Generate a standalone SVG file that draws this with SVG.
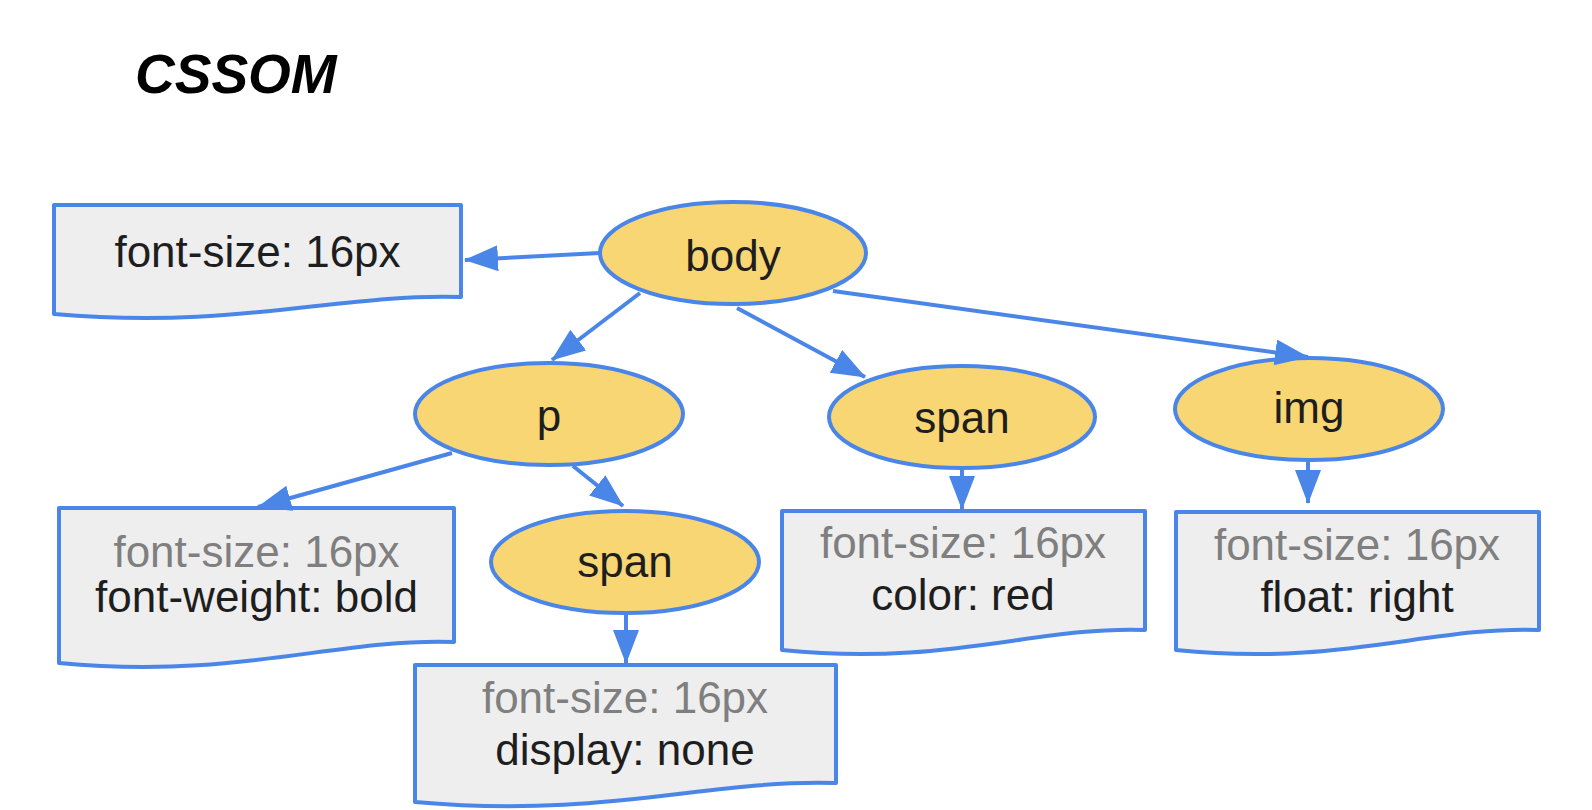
<svg xmlns="http://www.w3.org/2000/svg" width="1592" height="810" viewBox="0 0 1592 810">
<style>
.ell{fill:#f8d674;stroke:#4a86e8;stroke-width:4}
.doc{fill:#eeeeee;stroke:#4a86e8;stroke-width:4;stroke-linejoin:round}
.lbl{font-family:"Liberation Sans",Arial,sans-serif;font-size:44px;fill:#1e1e1e;text-anchor:middle}
.inh{fill:#7f7f7f}
.title{font-family:"Liberation Sans",Arial,sans-serif;font-size:55px;font-weight:bold;font-style:italic;fill:#000000}
.con{stroke:#4a86e8;stroke-width:4;fill:none;marker-end:url(#arr)}
</style>
<defs>
<marker id="arr" markerUnits="userSpaceOnUse" markerWidth="34" markerHeight="28" refX="33" refY="13" orient="auto">
<path d="M0,0 L34,13 L0,26 z" fill="#4a86e8"/>
</marker>
</defs>
<rect width="1592" height="810" fill="#ffffff"/>
<text class="title" x="135" y="93">CSSOM</text>

<g id="box-body">
<path class="doc" d="M54,205 H461 V297 C339,293 237,330 54,314 Z"/>
<text class="lbl" x="257.5" y="267">font-size: 16px</text>
</g>
<g id="node-body">
<ellipse class="ell" cx="733" cy="253" rx="133" ry="51"/>
<text class="lbl" x="733" y="271">body</text>
</g>
<g id="node-p">
<ellipse class="ell" cx="549" cy="414" rx="134" ry="51"/>
<text class="lbl" x="549" y="431">p</text>
</g>
<g id="node-span1">
<ellipse class="ell" cx="962" cy="417" rx="133" ry="51"/>
<text class="lbl" x="962" y="433">span</text>
</g>
<g id="node-img">
<ellipse class="ell" cx="1309" cy="409" rx="134" ry="51"/>
<text class="lbl" x="1309" y="423">img</text>
</g>
<g id="node-span2">
<ellipse class="ell" cx="625" cy="562" rx="134" ry="51"/>
<text class="lbl" x="625" y="577">span</text>
</g>
<g id="box-p">
<path class="doc" d="M59,508 H454 V642 C335,638 237,680 59,663 Z"/>
<text class="lbl inh" x="256.5" y="567">font-size: 16px</text>
<text class="lbl" x="256.5" y="612">font-weight: bold</text>
</g>
<g id="box-span1">
<path class="doc" d="M782,511 H1145 V630 C1036,626 945,667 782,650 Z"/>
<text class="lbl inh" x="963" y="558">font-size: 16px</text>
<text class="lbl" x="963" y="610">color: red</text>
</g>
<g id="box-img">
<path class="doc" d="M1176,512 H1539 V630 C1430,626 1339,667 1176,650 Z"/>
<text class="lbl inh" x="1357" y="560">font-size: 16px</text>
<text class="lbl" x="1357" y="612">float: right</text>
</g>
<g id="box-span2">
<path class="doc" d="M415,665 H836 V783 C710,779 605,819 415,802 Z"/>
<text class="lbl inh" x="625" y="713">font-size: 16px</text>
<text class="lbl" x="625" y="765">display: none</text>
</g>

<g id="connectors">
<line class="con" x1="600" y1="253" x2="465" y2="260"/>
<line class="con" x1="640" y1="293" x2="552" y2="360"/>
<line class="con" x1="737" y1="308" x2="865" y2="377"/>
<line class="con" x1="833" y1="291" x2="1308" y2="357"/>
<line class="con" x1="452" y1="453" x2="258" y2="507"/>
<line class="con" x1="573" y1="466" x2="623" y2="506"/>
<line class="con" x1="626" y1="613" x2="626" y2="663"/>
<line class="con" x1="962" y1="469" x2="962" y2="509"/>
<line class="con" x1="1308" y1="460" x2="1308" y2="503"/>
</g>
</svg>
